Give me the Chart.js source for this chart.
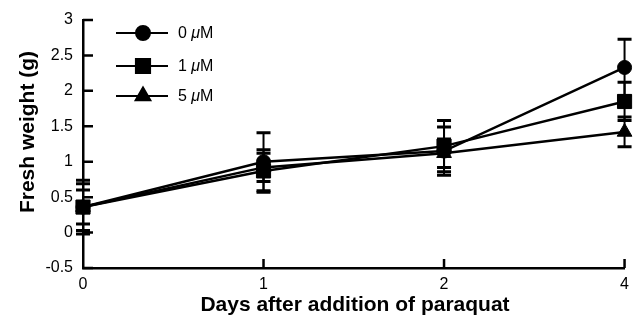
<!DOCTYPE html>
<html>
<head>
<meta charset="utf-8">
<script src="https://cdn.jsdelivr.net/npm/chart.js@4/dist/chart.umd.min.js"></script>
<style>
html,body{margin:0;padding:0;background:#fff;}
#wrap{width:636px;height:321px;}
</style>
</head>
<body>
<div id="wrap"><canvas id="c" width="636" height="321"></canvas></div>
<script>
// Data
const days = ['0', '1', '2', '4'];
const legendLabels = ['0 μM', '1 μM', '5 μM'];
const weight0 = [0.36, 1.00, 1.15, 2.33];
const weight1 = [0.36, 0.87, 1.22, 1.85];
const weight5 = [0.36, 0.92, 1.12, 1.42];
const err0 = [0.38, 0.41, 0.34, 0.40];
const err1 = [0.33, 0.30, 0.36, 0.27];
const err5 = [0.24, 0.20, 0.20, 0.21];
const yTitle = 'Fresh weight (g)';
const xTitle = 'Days after addition of paraquat';

const FONT = '"Liberation Sans", Arial, Helvetica, sans-serif';

const errorBars = {
  id: 'errorBars',
  afterDatasetsDraw(chart) {
    const {ctx, scales: {x, y}} = chart;
    ctx.save();
    ctx.strokeStyle = '#000';
    chart.data.datasets.forEach((ds) => {
      ds.data.forEach((v, i) => {
        const e = ds.errors[i];
        const px = x.getPixelForValue(i);
        const top = y.getPixelForValue(v + e);
        const bot = y.getPixelForValue(v - e);
        ctx.lineWidth = 2;
        ctx.beginPath();
        ctx.moveTo(px, top); ctx.lineTo(px, bot);
        ctx.stroke();
        ctx.lineWidth = 3;
        ctx.beginPath();
        ctx.moveTo(px - 7, top); ctx.lineTo(px + 7, top);
        ctx.moveTo(px - 7, bot); ctx.lineTo(px + 7, bot);
        ctx.stroke();
      });
    });
    ctx.restore();
  }
};

const decorations = {
  id: 'decorations',
  afterDraw(chart) {
    const {ctx, scales: {x, y}, chartArea} = chart;
    ctx.save();
    ctx.strokeStyle = '#000';
    ctx.lineWidth = 2.5;
    // inward ticks on y axis
    ctx.beginPath();
    y.ticks.forEach((t, i) => {
      const py = y.getPixelForTick(i);
      ctx.moveTo(chartArea.left, py);
      ctx.lineTo(chartArea.left + 10, py);
    });
    // inward ticks on x axis
    x.ticks.forEach((t, i) => {
      if (i === 0) return;
      const px = x.getPixelForTick(i);
      ctx.moveTo(px, chartArea.bottom);
      ctx.lineTo(px, chartArea.bottom - 9);
    });
    ctx.stroke();

    // legend
    const lx0 = 116, lx1 = 168, mx = 143;
    const rows = [33, 66, 96];
    chart.data.datasets.forEach((ds, i) => {
      const ly = rows[i];
      ctx.lineWidth = 2;
      ctx.beginPath();
      ctx.moveTo(lx0, ly); ctx.lineTo(lx1, ly);
      ctx.stroke();
      Chart.helpers.drawPoint(ctx, {
        pointStyle: ds.pointStyle, radius: ds.pointRadius, borderWidth: 1
      }, mx, ly);
      ctx.fillStyle = '#000';
      ctx.fill();
      // text
      const parts = legendLabels[i].split('μ');
      ctx.textBaseline = 'middle';
      ctx.textAlign = 'left';
      let tx = 178;
      ctx.font = '16px ' + FONT;
      ctx.fillText(parts[0], tx, ly + 1);
      tx += ctx.measureText(parts[0]).width;
      ctx.font = 'italic 16px ' + FONT;
      ctx.fillText('μ', tx, ly + 1);
      tx += ctx.measureText('μ').width;
      ctx.font = '16px ' + FONT;
      ctx.fillText(parts[1], tx, ly + 1);
    });

    // axis titles
    ctx.fillStyle = '#000';
    ctx.font = 'bold 21px ' + FONT;
    ctx.textAlign = 'center';
    ctx.textBaseline = 'middle';
    ctx.fillText(xTitle, 355, 305);
    ctx.save();
    ctx.translate(28, 132);
    ctx.rotate(-Math.PI / 2);
    ctx.fillText(yTitle, 0, 0);
    ctx.restore();
    ctx.restore();
  }
};

function mkDataset(label, data, errors, style, radius) {
  return {
    label, data, errors,
    borderColor: '#000', backgroundColor: '#000',
    borderWidth: 2.5,
    pointStyle: style, pointRadius: radius, pointHoverRadius: radius,
    pointBorderWidth: 1,
    pointBackgroundColor: '#000', pointBorderColor: '#000',
    tension: 0, clip: false
  };
}

new Chart(document.getElementById('c'), {
  type: 'line',
  data: {
    labels: days,
    datasets: [
      mkDataset(legendLabels[0], weight0, err0, 'circle', 7),
      mkDataset(legendLabels[1], weight1, err1, 'rect', 10),
      mkDataset(legendLabels[2], weight5, err5, 'triangle', 8.5)
    ]
  },
  options: {
    responsive: false,
    animation: false,
    devicePixelRatio: 1,
    layout: {padding: {top: 20, right: 9, left: 0, bottom: 0}},
    plugins: {legend: {display: false}, tooltip: {enabled: false}},
    scales: {
      x: {
        type: 'category',
        offset: false,
        grid: {display: false, drawTicks: false},
        border: {display: true, color: '#000', width: 2.5},
        ticks: {color: '#000', padding: 7, font: {family: FONT, size: 16}, maxRotation: 0},
        afterFit(s) { s.height = 53; }
      },
      y: {
        min: -0.5, max: 3,
        grid: {display: false, drawTicks: false},
        border: {display: true, color: '#000', width: 2.5},
        ticks: {
          stepSize: 0.5, color: '#000', padding: 10, font: {family: FONT, size: 16},
          callback: (v) => String(Math.round(v * 10) / 10)
        },
        afterFit(s) { s.width = 83; }
      }
    }
  },
  plugins: [errorBars, decorations]
});
</script>
</body>
</html>
